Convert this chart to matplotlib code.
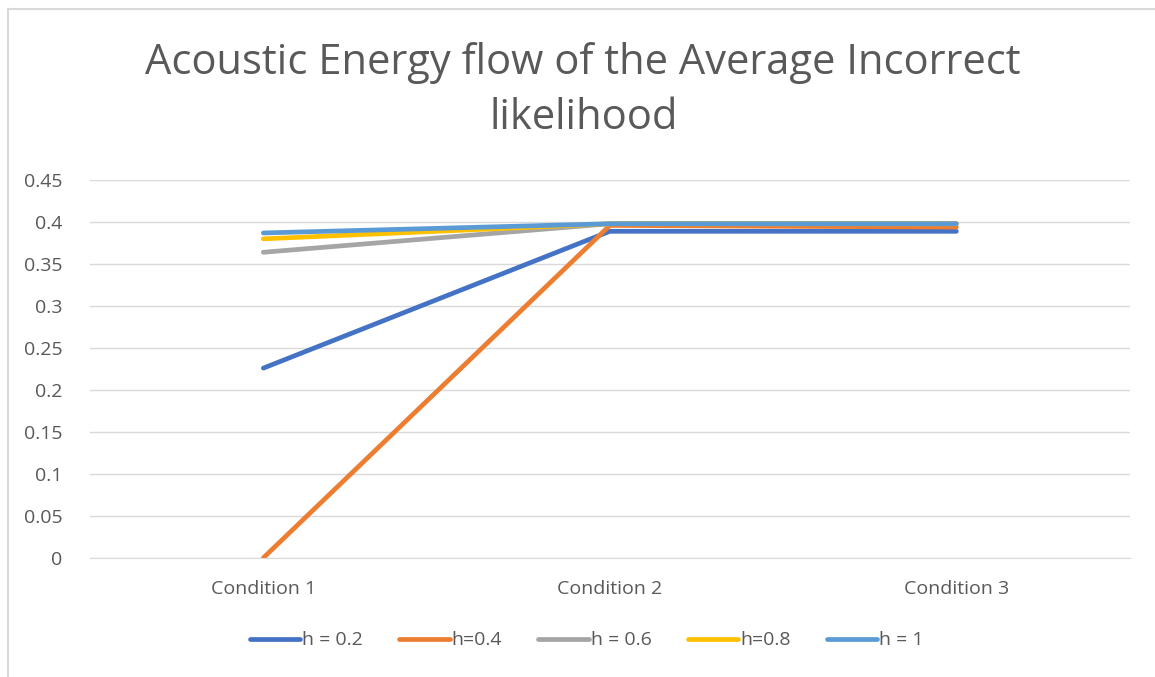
import matplotlib.pyplot as plt
from matplotlib.lines import Line2D

categories = ['Condition 1', 'Condition 2', 'Condition 3']
series_names = ['h = 0.2', 'h=0.4', 'h = 0.6', 'h=0.8', 'h = 1']
h02 = [0.226, 0.389, 0.389]
h04 = [0.0, 0.396, 0.394]
h06 = [0.364, 0.398, 0.398]
h08 = [0.380, 0.398, 0.398]
h1 = [0.387, 0.398, 0.398]
yticks = [0, 0.05, 0.1, 0.15, 0.2, 0.25, 0.3, 0.35, 0.4, 0.45]
ytick_labels = ['0', '0.05', '0.1', '0.15', '0.2', '0.25', '0.3', '0.35', '0.4', '0.45']

colors = ['#4472C4', '#ED7D31', '#A5A5A5', '#FFC000', '#5B9BD5']
txt = '#595959'

plt.rcParams['font.family'] = ['Open Sans', 'DejaVu Sans']

fig = plt.figure(figsize=(11.55, 6.77), dpi=100)
ax = fig.add_axes([0.078, 0.176, 0.9, 0.558])

x = range(len(categories))
for vals, name, c in zip([h02, h04, h06, h08, h1], series_names, colors):
    ax.plot(x, vals, color=c, lw=3.4, solid_capstyle='round', label=name)

ax.set_xlim(-0.5, 2.5)
ax.set_ylim(0, 0.45)
ax.set_yticks(yticks)
ax.set_yticklabels(ytick_labels)
ax.set_xticks(list(x))
ax.set_xticklabels(categories)
ax.grid(axis='y', color='#D9D9D9', lw=1)
ax.set_axisbelow(True)
for s in ['top', 'right', 'left']:
    ax.spines[s].set_visible(False)
ax.spines['bottom'].set_color('#D9D9D9')
ax.tick_params(axis='both', length=0, colors=txt, labelsize=14)
ax.tick_params(axis='y', pad=20)
ax.tick_params(axis='x', pad=16)

fig.text(0.505, 0.866, 'Acoustic Energy flow of the Average Incorrect\nlikelihood',
         ha='center', va='center', fontsize=30, color=txt, linespacing=1.4)

handles = [Line2D([], [], color=c, lw=3.4, solid_capstyle='round') for c in colors]
leg = fig.legend(handles, series_names, loc='center', bbox_to_anchor=(0.508, 0.054),
                 ncol=5, frameon=False, fontsize=14, handlelength=2.6,
                 handletextpad=0.1, columnspacing=1.85)
for t in leg.get_texts():
    t.set_color(txt)

# chart border (top and left edges visible)
fig.add_artist(Line2D([0.0065, 1.0], [0.986, 0.986], color='#D9D9D9', lw=1.5))
fig.add_artist(Line2D([0.0065, 0.0065], [0.0, 0.986], color='#D9D9D9', lw=1.5))

fig.savefig('out.png', dpi=100)
